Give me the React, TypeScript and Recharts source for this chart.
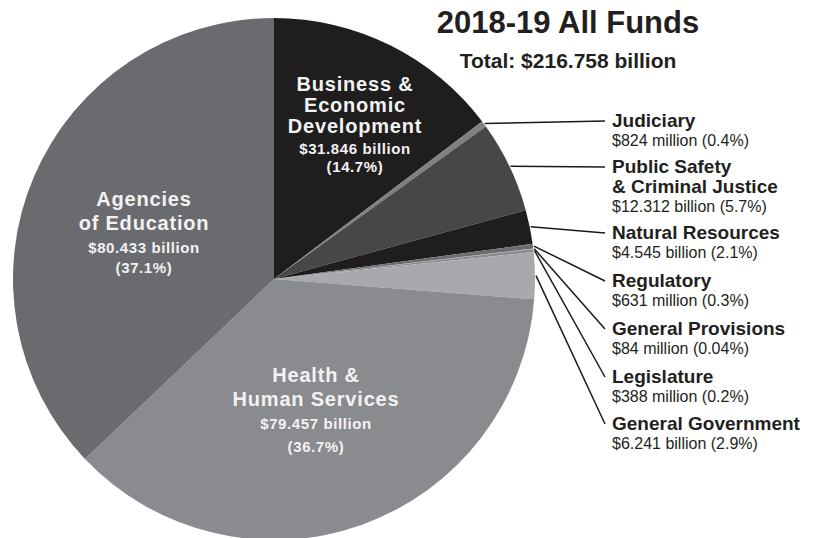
import { PieChart, Pie, Cell } from 'recharts'

const FONT = '"Liberation Sans", Arial, Helvetica, sans-serif'

const nameLines = [
  ['Business &', 'Economic', 'Development'],
  ['Judiciary'],
  ['Public Safety', '& Criminal Justice'],
  ['Natural Resources'],
  ['Regulatory'],
  ['General Provisions'],
  ['Legislature'],
  ['General Government'],
  ['Health &', 'Human Services'],
  ['Agencies', 'of Education'],
]
const amounts = [31.846, 0.824, 12.312, 4.545, 0.631, 0.084, 0.388, 6.241, 79.457, 80.433]
const amountLabels = ['$31.846 billion', '$824 million', '$12.312 billion', '$4.545 billion', '$631 million', '$84 million', '$388 million', '$6.241 billion', '$79.457 billion', '$80.433 billion']
const shares = ['14.7%', '0.4%', '5.7%', '2.1%', '0.3%', '0.04%', '0.2%', '2.9%', '36.7%', '37.1%']
const colors = ['#1f1d1e', '#808083', '#47474a', '#1f1d1e', '#6d6d70', '#9a9a9c', '#8a8a8d', '#a8a9ac', '#8a8b8f', '#6a6b6f']

const data = amounts.map((v, i) => ({ idx: i, name: nameLines[i].join(' '), value: v }))

// label placement (layout only)
const inside: Record<number, { x: number; y: number; lines: number[]; value: number; share: number }> = {
  0: { x: 355, y: 91, lines: [0, 21, 42], value: 63, share: 81 },
  8: { x: 316, y: 382, lines: [0, 23.5], value: 47, share: 70 },
  9: { x: 144, y: 206, lines: [0, 24], value: 47, share: 67 },
}
const outsideY: Record<number, number> = { 1: 127, 2: 173, 3: 239, 4: 287, 5: 335, 6: 383, 7: 430 }
const RAD = Math.PI / 180

const renderLabel = (props: any) => {
  const { cx, cy, midAngle, outerRadius } = props
  const i: number = props.payload?.idx ?? props.index
  const ins = inside[i]
  if (ins) {
    return (
      <g key={`l${i}`} fill="#f2f2f2" fontFamily={FONT} fontWeight="bold" textAnchor="middle">
        {nameLines[i].map((t, k) => (
          <text key={k} x={ins.x} y={ins.y + ins.lines[k]} fontSize={20} letterSpacing={0.8} fill="#f2f2f2" stroke="none">{t}</text>
        ))}
        <text x={ins.x} y={ins.y + ins.value} fontSize={15} letterSpacing={0.6} fill="#f2f2f2" stroke="none">{amountLabels[i]}</text>
        <text x={ins.x} y={ins.y + ins.share} fontSize={15} letterSpacing={0.6} fill="#f2f2f2" stroke="none">({shares[i]})</text>
      </g>
    )
  }
  const by = outsideY[i]
  const sx = cx + (outerRadius + 1) * Math.cos(-midAngle * RAD)
  const sy = cy + (outerRadius + 1) * Math.sin(-midAngle * RAD)
  const nl = nameLines[i].length
  return (
    <g key={`l${i}`} fontFamily={FONT}>
      <line x1={sx} y1={sy} x2={605} y2={by - 6} stroke="#1a1a1a" strokeWidth={1.5} />
      {nameLines[i].map((t, k) => (
        <text key={k} x={612} y={by + k * 20} fontSize={19} fontWeight="bold" fill="#231f20" stroke="none">{t}</text>
      ))}
      <text x={612} y={by + (nl - 1) * 20 + 19} fontSize={16} fill="#231f20" stroke="none">
        {amountLabels[i]} ({shares[i]})
      </text>
    </g>
  )
}

export default function App() {
  return (
    <div style={{ position: 'absolute', left: 0, top: 0, width: 818, height: 538, background: '#fff', overflow: 'hidden' }}>
      <PieChart width={818} height={538} margin={{ top: 0, right: 0, bottom: 0, left: 0 }}>
        <Pie
          data={data}
          dataKey="value"
          nameKey="name"
          cx={274}
          cy={279}
          outerRadius={261}
          startAngle={90}
          endAngle={-270}
          stroke="none"
          labelLine={false}
          label={renderLabel}
          isAnimationActive={false}
        >
          {data.map((d) => <Cell key={d.idx} fill={colors[d.idx]} stroke="none" />)}
        </Pie>
      </PieChart>
      <svg width={818} height={538} style={{ position: 'absolute', left: 0, top: 0, pointerEvents: 'none' }}>
        <text x={568} y={33} textAnchor="middle" fontFamily={FONT} fontWeight="bold" fontSize={31} fill="#231f20">2018-19 All Funds</text>
        <text x={568} y={68} textAnchor="middle" fontFamily={FONT} fontWeight="bold" fontSize={21} fill="#231f20">Total: $216.758 billion</text>
      </svg>
    </div>
  )
}
